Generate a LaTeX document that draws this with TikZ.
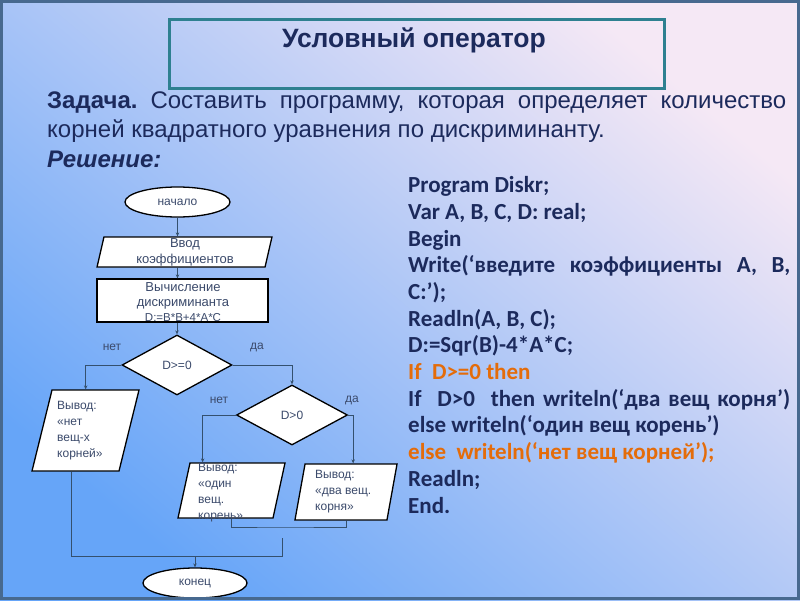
\documentclass[tikz,border=0pt]{standalone}
\usepackage{fontspec}
\setmainfont{Liberation Sans}
\newfontfamily\codefont{Carlito}
\usetikzlibrary{arrows.meta, positioning, shapes.geometric}
\definecolor{bgblue}{HTML}{66A5F8}
\definecolor{bgmid}{HTML}{ADCDF6}
\definecolor{bgpink}{HTML}{F5E8F5}
\definecolor{framec}{HTML}{47698F}
\definecolor{teal}{HTML}{2E8090}
\definecolor{navy}{HTML}{1C2A5C}
\definecolor{codeorange}{HTML}{E46C0A}
\definecolor{flowtext}{HTML}{3B4A6B}
\definecolor{flowline}{HTML}{34506E}
\frenchspacing

\begin{document}
\begin{tikzpicture}[x=1pt, y=-1pt, font=\fontsize{12}{16}\selectfont,
        term/.style={draw, ellipse, fill=white, line width=1.3pt, inner sep=0pt,
                     minimum width=105, minimum height=30, text=flowtext},
        io/.style={draw, rectangle, fill=white, line width=1.3pt, inner sep=0pt,
                   transform shape},
        proc/.style={draw, rectangle, fill=white, line width=1.3pt, inner sep=0pt,
                     minimum width=171, minimum height=43},
        cond/.style={draw, diamond, fill=white, line width=1.3pt, inner sep=0pt,
                     minimum width=110, minimum height=60, text=flowtext},
        txt/.style={align=left, inner sep=0pt, text=flowtext},
        lbl/.style={inner sep=0pt, text=flowtext},
        line/.style={draw=flowline, line width=0.9pt},
        arr/.style={line, -{Stealth[length=4pt, width=3.5pt]}}]
      \useasboundingbox (0,0) rectangle (800,600);
      \shade[top color=bgpink, middle color=bgmid, bottom color=bgblue, shading angle=-40]
        (0,0) rectangle (800,600);
      % heading
      \node[draw=teal, line width=3pt, minimum width=495, minimum height=69,
            anchor=north west] (titlebox) at (168,18) {};
      \node[text=navy, font=\bfseries\fontsize{26.5}{30}\selectfont]
        (title) at (414,40) {Условный оператор};
      \node[text=navy, align=left, inner sep=0pt, anchor=base west,
            font=\fontsize{24}{29.5}\selectfont] (task) at (47,167)
        {\makebox[739pt][s]{\textbf{Задача.} Составить программу, которая определяет количество}\\
         корней квадратного уравнения по дискриминанту.\\
         \textbf{\itshape Решение:}};
      % flowchart
      \node[term] (start) at (177.5,202) {начало};
      \node[io, xslant=0.23, minimum width=168, minimum height=30] (inp) at (184.5,252) {};
      \node[txt, align=center, font=\fontsize{13}{16}\selectfont] (inptxt) at (185,252)
        {Ввод\\коэффициентов};
      \node[proc] (calc) at (182.5,300.5) {};
      \node[txt, align=center, anchor=north, font=\fontsize{13}{15}\selectfont] (calctxt) at (183,282)
        {Вычисление\\дискриминанта\\\fontsize{11.5}{15}\selectfont D:=B*B+4*A*C};
      \node[cond] (d0) at (177,365) {D>=0};
      \node[cond, minimum width=111] (d1) at (292,415) {D>0};
      \node[io, xslant=0.247, minimum width=87, minimum height=81] (noout) at (85.5,430.5) {};
      \node[io, xslant=0.218, minimum width=95, minimum height=55] (one) at (231.5,490.5) {};
      \node[io, xslant=0.18, minimum width=92, minimum height=56] (two) at (346,492) {};
      \node[txt, anchor=north west] (nootxt) at (57,401)
        {Вывод:\\«нет\\вещ-х\\корней»};
      \node[txt, anchor=north west] (onetxt) at (198,463)
        {Вывод:\\«один\\вещ.\\корень»};
      \node[txt, anchor=north west] (twotxt) at (315,470)
        {Вывод:\\«два вещ.\\корня»};
      \node[term, minimum width=104] (end) at (195,583) {конец};
      \node[lbl] (no0) at (112,347) {нет};
      \node[lbl] (yes0) at (257,347) {да};
      \node[lbl] (no1) at (219,400) {нет};
      \node[lbl] (yes1) at (352,400) {да};
      \draw[arr] (start.south) -- (start.south |- inp.north);
      \draw[arr] (start.south |- inp.south) -- (start.south |- calc.north);
      \draw[arr] (d0.north |- calc.south) -- (d0.north);
      \draw[arr] (d0.west) -| ([xshift=-10]noout.north);
      \draw[arr] (d0.east) -| (d1.north);
      \draw[arr] (d1.west) -| ([xshift=-35]one.north);
      \draw[arr] (d1.east) -| ([xshift=2]two.north);
      \coordinate (m1) at (282,527);
      \coordinate (m2) at (282,538);
      \coordinate (m3) at (195,556);
      \draw[line] ([xshift=6.5]one.south) |- (m1) -| ([xshift=6]two.south);
      \draw[line] (m2) |- (m3) -| ([xshift=-4]noout.south);
      \draw[arr] (m3) -- (end.north);
      % program text
      \node[align=left, inner sep=0pt, anchor=base west, text=navy,
            font=\codefont\bfseries\fontsize{23}{26.67}\selectfont] (prog) at (408,513)
        {Program Diskr;\\
         Var A, B, C, D: real;\\
         Begin\\
         \makebox[382pt][s]{Write(‘введите коэффициенты A, B,}\\
         C:’);\\
         Readln(A, B, C);\\
         D:=Sqr(B)-4*A*C;\\
         \textcolor{codeorange}{If\ \ D>=0 then}\\
         \makebox[382pt][s]{If\ \ D>0\ \ then writeln(‘два вещ корня’)}\\
         else writeln(‘один вещ корень’)\\
         \textcolor{codeorange}{else\ \ writeln(‘нет вещ корней’);}\\
         Readln;\\
         End.};
      \draw[framec, line width=3pt] (1.5,1.5) rectangle (798.5,598.5);
    \end{tikzpicture}
\end{document}
